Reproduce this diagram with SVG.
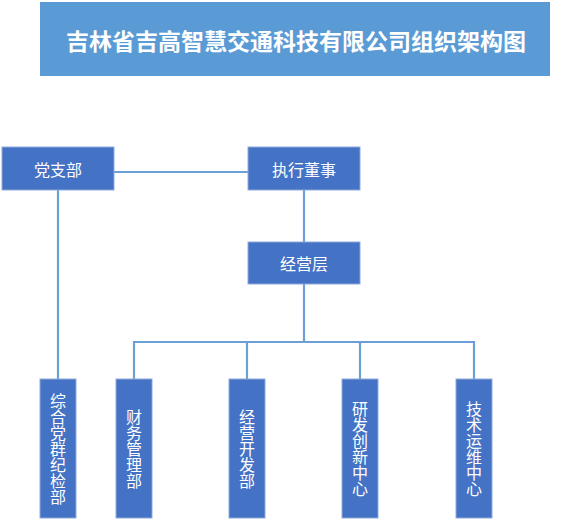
<svg xmlns="http://www.w3.org/2000/svg" width="570" height="521" viewBox="0 0 570 521">
<style>
.box{fill:#4472c4;stroke:#8faadc;stroke-width:1}
.t{fill:#ffffff;font-family:"Noto Sans CJK SC","Noto Sans",sans-serif;font-size:16px;text-anchor:middle;dominant-baseline:central}
.v{fill:#ffffff;font-family:"Noto Sans CJK SC","Noto Sans",sans-serif;font-size:16px;text-anchor:middle;writing-mode:vertical-rl;text-orientation:upright}
.ln{fill:none;stroke:#6c9fd6;stroke-width:2.2}
</style>
<rect width="570" height="521" fill="#ffffff"/>
<g id="title">
<rect x="40" y="2" width="510" height="74" fill="#5b9bd5"/>
<text x="296" y="40" style="fill:#ffffff;font-family:'Noto Sans CJK SC',sans-serif;font-size:23px;font-weight:bold;text-anchor:middle;dominant-baseline:central">吉林省吉高智慧交通科技有限公司组织架构图</text>
</g>
<g id="connectors">
<line class="ln" x1="114" y1="172" x2="248" y2="172"/>
<line class="ln" x1="58" y1="190" x2="58" y2="379"/>
<line class="ln" x1="304" y1="190" x2="304" y2="242"/>
<line class="ln" x1="304" y1="284" x2="304" y2="342"/>
<polyline class="ln" points="134,379 134,342 474,342 474,379"/>
<line class="ln" x1="247" y1="342" x2="247" y2="379"/>
<line class="ln" x1="360" y1="342" x2="360" y2="379"/>
</g>
<g id="dangzhibu">
<rect class="box" x="2" y="147" width="112" height="43"/>
<text class="t" x="58" y="169">党支部</text>
</g>
<g id="zhixingdongshi">
<rect class="box" x="248" y="147" width="112" height="43"/>
<text class="t" x="304" y="169">执行董事</text>
</g>
<g id="jingyingceng">
<rect class="box" x="248" y="242" width="112" height="42"/>
<text class="t" x="304" y="263">经营层</text>
</g>
<g id="zonghe">
<rect class="box" x="40" y="379" width="36" height="139"/>
<text class="v" x="58" y="449">综合党群纪检部</text>
</g>
<g id="caiwu">
<rect class="box" x="116" y="379" width="36" height="139"/>
<text class="v" x="134" y="449">财务管理部</text>
</g>
<g id="jingyingkaifa">
<rect class="box" x="229" y="379" width="36" height="139"/>
<text class="v" x="247" y="449">经营开发部</text>
</g>
<g id="yanfa">
<rect class="box" x="342" y="379" width="36" height="139"/>
<text class="v" x="360" y="449">研发创新中心</text>
</g>
<g id="jishu">
<rect class="box" x="456" y="379" width="36" height="139"/>
<text class="v" x="474" y="449">技术运维中心</text>
</g>
</svg>
